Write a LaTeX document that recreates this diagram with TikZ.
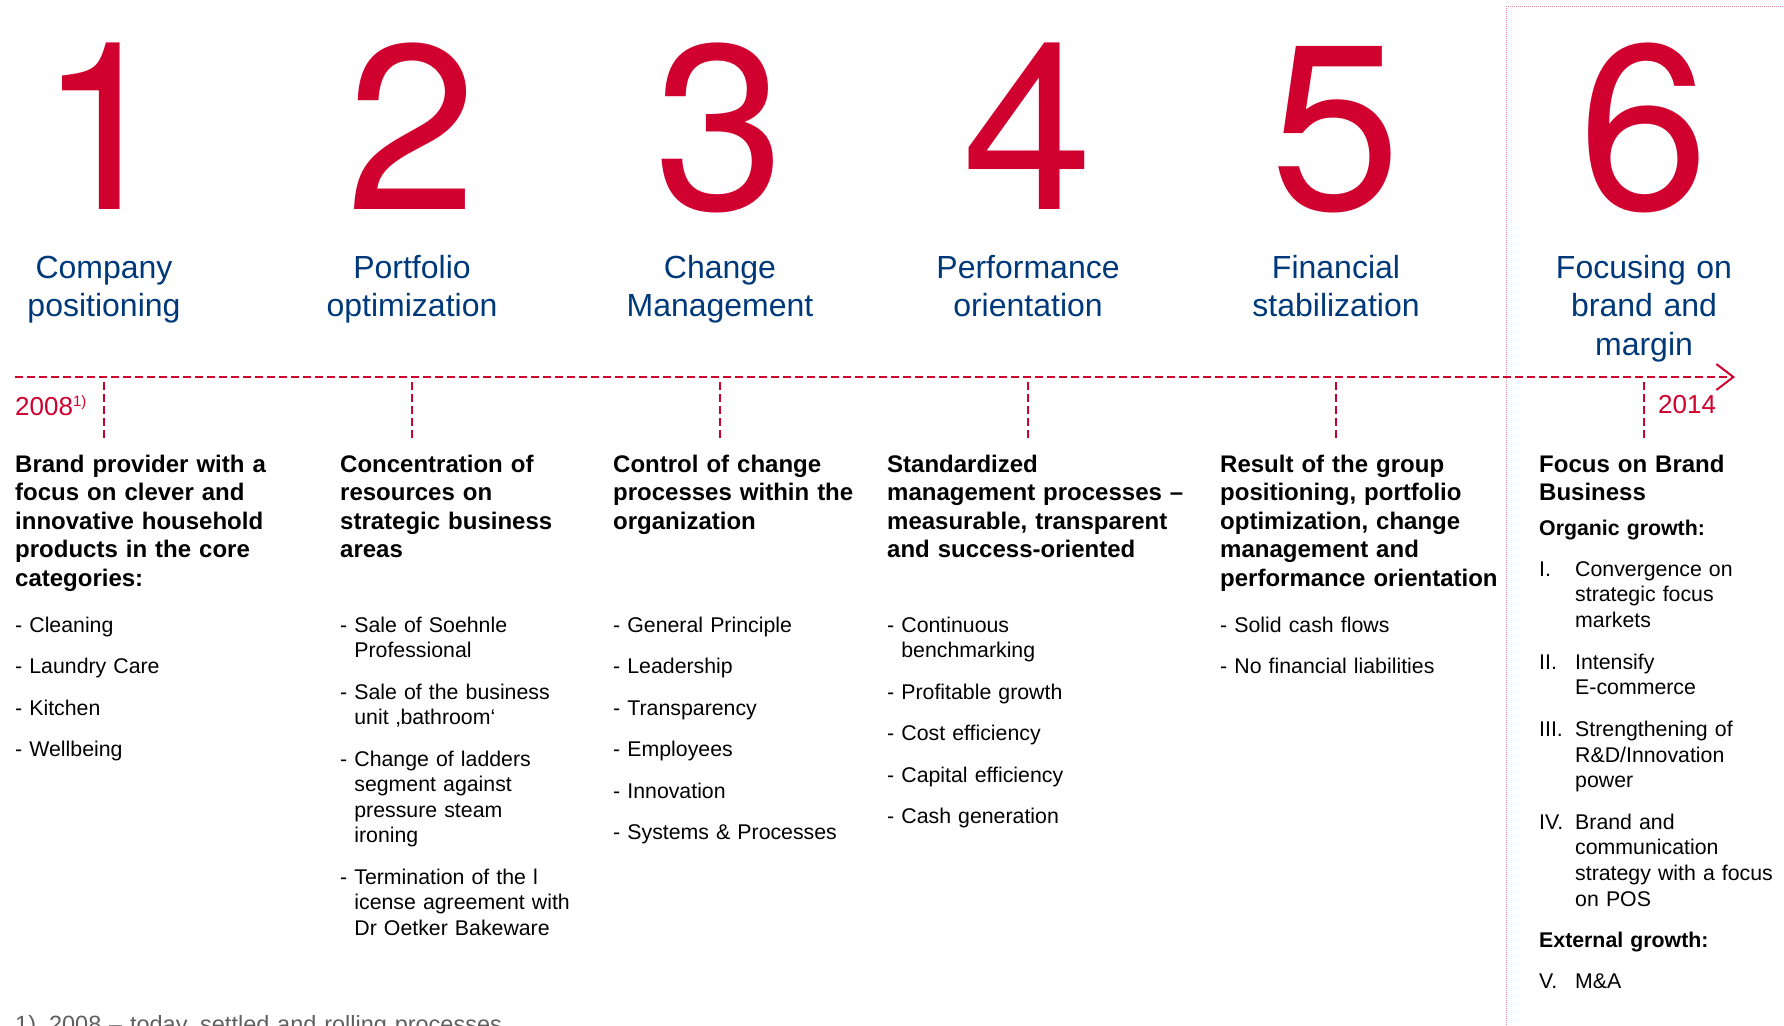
\documentclass[tikz,border=0pt]{standalone}
\usepackage{fontspec}
\setmainfont{Liberation Sans}
\newfontfamily\digitfont{TeX Gyre Heros}
\usetikzlibrary{arrows.meta}

\definecolor{brandred}{RGB}{208,0,47}
\definecolor{brandblue}{RGB}{0,57,122}
\definecolor{framered}{RGB}{224,140,160}
\definecolor{notegray}{RGB}{95,95,95}

% indents for the wrapped lines of the lists
\newcommand{\dashcont}{\phantom{-\ }}
\newcommand{\numbox}[1]{\makebox[36pt][l]{#1}}
\newcommand{\numcont}{\hspace*{36pt}}

\begin{document}
\begin{tikzpicture}[x=1pt, y=-1pt,
  digit/.style = {text=brandred, font=\digitfont\fontsize{235}{235}\selectfont, anchor=base, inner sep=0pt},
  phase/.style = {text=brandblue, font=\fontsize{32}{38.5}\selectfont, align=center, text width=220pt, anchor=base, inner sep=0pt},
  lead/.style = {font=\bfseries\fontsize{24}{28.5}\selectfont, align=left, text width=320pt, anchor=base west, inner sep=0pt},
  points/.style = {font=\fontsize{21.3}{25.5}\selectfont, align=left, text width=320pt, anchor=base west, inner sep=0pt},
  year/.style = {text=brandred, font=\fontsize{26}{30}\selectfont, anchor=base west, inner sep=0pt},
  axis/.style = {brandred, line width=2pt, dash pattern=on 8pt off 4pt},
  frame/.style = {framered, line width=1pt, densely dotted}]
\useasboundingbox (0,0) rectangle (1784,1025);
\clip (0,0) rectangle (1784,1025);

% box round the last phase
\coordinate (frame bottom) at (1506,1025);
\coordinate (frame corner) at (1506,7);
\coordinate (frame right) at (1784,7);
\draw[frame] (frame bottom) -- (frame corner) -- (frame right);

% time axis with one tick per phase
\coordinate (axis start) at (15,377);
\coordinate (axis end) at (1735,377);
\draw[axis, -{Straight Barb[length=17pt, width=26pt, line width=2pt]}] (axis start) -- (axis end);
\foreach \i/\x in {1/104, 2/412, 3/720, 4/1028, 5/1336, 6/1644} {
  \coordinate (tick\i top) at (\x,382);
  \coordinate (tick\i bottom) at (\x,440);
  \draw[axis] (tick\i top) -- (tick\i bottom);
}
\node[year] (start year) at (15,415) {2008\raisebox{9pt}{\fontsize{15}{15}\selectfont 1)}};
\node[year] (end year) at (1658,413) {2014};

% phase numbers and names
\node[digit] (d1) at (104,209) {1};
\node[digit] (d2) at (412,209) {2};
\node[digit] (d3) at (720,209) {3};
\node[digit] (d4) at (1028,209) {4};
\node[digit] (d5) at (1336,209) {5};
\node[digit] (d6) at (1644,209) {6};
\node[phase] (p1) at (104,278) {Company\\positioning};
\node[phase] (p2) at (412,278) {Portfolio\\optimization};
\node[phase] (p3) at (720,278) {Change\\Management};
\node[phase] (p4) at (1028,278) {Performance\\orientation};
\node[phase] (p5) at (1336,278) {Financial\\stabilization};
\node[phase] (p6) at (1644,278) {Focusing on\\brand and\\margin};

% goals of each phase
\node[lead] (l1) at (15,472) {Brand provider with a\\focus on clever and\\innovative household\\products in the core\\categories:};
\node[lead] (l2) at (340,472) {Concentration of\\resources on\\strategic business\\areas};
\node[lead] (l3) at (613,472) {Control of change\\processes within the\\organization};
\node[lead] (l4) at (887,472) {Standardized\\management processes –\\measurable, transparent\\and success-oriented};
\node[lead] (l5) at (1220,472) {Result of the group\\positioning, portfolio\\optimization, change\\management and\\performance orientation};
\node[lead] (l6) at (1539,472) {Focus on Brand\\Business};

% measures
\node[points] (m1) at (15,632) {- Cleaning\\[16pt]- Laundry Care\\[16pt]- Kitchen\\[16pt]- Wellbeing};
\node[points] (m2) at (340,632) {- Sale of Soehnle\\\dashcont Professional\\[16pt]
  - Sale of the business\\\dashcont unit ‚bathroom‘\\[16pt]
  - Change of ladders\\\dashcont segment against\\\dashcont pressure steam\\\dashcont ironing\\[16pt]
  - Termination of the l\\\dashcont icense agreement with\\\dashcont Dr Oetker Bakeware};
\node[points] (m3) at (613,632) {- General Principle\\[16pt]- Leadership\\[16pt]- Transparency\\[16pt]- Employees\\[16pt]- Innovation\\[16pt]- Systems \& Processes};
\node[points] (m4) at (887,632) {- Continuous\\\dashcont benchmarking\\[16pt]- Profitable growth\\[16pt]- Cost efficiency\\[16pt]- Capital efficiency\\[16pt]- Cash generation};
\node[points] (m5) at (1220,632) {- Solid cash flows\\[16pt]- No financial liabilities};
\node[points, font=\fontsize{21.3}{25.7}\selectfont] (m6) at (1539,535) {\textbf{Organic growth:}\\[15.5pt]
  \numbox{I.}Convergence on\\\numcont strategic focus\\\numcont markets\\[15.8pt]
  \numbox{II.}Intensify\\\numcont E-commerce\\[15.8pt]
  \numbox{III.}Strengthening of\\\numcont R\&D/Innovation\\\numcont power\\[15.8pt]
  \numbox{IV.}Brand and\\\numcont communication\\\numcont strategy with a focus\\\numcont on POS\\[15.8pt]
  \textbf{External growth:}\\[14.5pt]
  \numbox{V.}M\&A};

% footnote, cut by the lower edge
\node[points, text=notegray, text width=700pt, font=\fontsize{23.5}{28}\selectfont] (note) at (15,1032) {1)\hspace{13pt}2008 – today, settled and rolling processes};
\end{tikzpicture}
\end{document}
